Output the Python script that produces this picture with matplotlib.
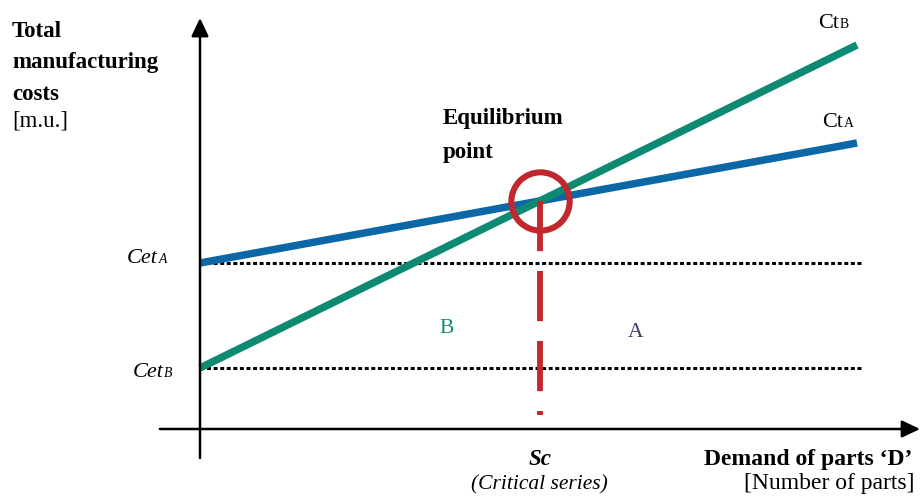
import matplotlib
matplotlib.use("Agg")
import matplotlib.pyplot as plt

# break-even between two processes A and B (conceptual, arbitrary units)
demand = [0.0, 10.0]          # demand of parts D
ct_a = [16.6, 28.6]           # total cost process A, CetA at D=0
ct_b = [6.1, 38.4]            # total cost process B, CetB at D=0
cet_a = ct_a[0]
cet_b = ct_b[0]
dotted_end = 10.08

# critical series = where both cost lines cross
slope_a = (ct_a[1] - ct_a[0]) / (demand[1] - demand[0])
slope_b = (ct_b[1] - ct_b[0]) / (demand[1] - demand[0])
sc = (cet_a - cet_b) / (slope_b - slope_a)
c_eq = cet_a + slope_a * sc

GREEN = '#0f8a72'
BLUE = '#0b67a6'
RED = '#c1272d'

plt.rcParams['font.family'] = ['Liberation Serif', 'DejaVu Serif']

fig = plt.figure(figsize=(9.21, 4.99), dpi=100)
ax = fig.add_axes([0, 0, 1, 1])
ax.set_xlim(-3.044, 10.974)
ax.set_ylim(-7.0, 42.9)
ax.axis('off')

# axes with arrows
arr = dict(arrowstyle='-|>,head_length=0.55,head_width=0.26', lw=1.8,
           color='black', mutation_scale=20, shrinkA=0, shrinkB=0)
ax.annotate('', xy=(0, 41.1), xytext=(0, -2.9), arrowprops=arr)
ax.annotate('', xy=(10.96, 0), xytext=(-0.61, 0), arrowprops=arr)

# fixed cost levels
for c in (cet_a, cet_b):
    ax.plot([0, dotted_end], [c, c], color='black', lw=2.2,
            dashes=(1.3, 0.85), solid_capstyle='butt')

# cost lines
ax.plot(demand, ct_a, color=BLUE, lw=5.4, solid_capstyle='butt')
ax.plot(demand, ct_b, color=GREEN, lw=5.4, solid_capstyle='butt')

# equilibrium point
ax.plot([sc, sc], [c_eq, 1.4], color=RED, lw=4.2, dashes=(8.6, 3.4))
ax.plot([sc], [c_eq], marker='o', markersize=42, markerfacecolor='none',
        markeredgecolor=RED, markeredgewidth=4.4)

# labels
fs = 16.5
ax.text(-2.86, 39.2, 'Total', fontsize=fs, fontweight='bold', va='baseline')
ax.text(-2.86, 36.1, 'manufacturing', fontsize=fs, fontweight='bold', va='baseline')
ax.text(-2.86, 32.9, 'costs', fontsize=fs, fontweight='bold', va='baseline')
ax.text(-2.86, 30.3, '[m.u.]', fontsize=fs, va='baseline')

ax.text(3.70, 30.5, 'Equilibrium', fontsize=fs, fontweight='bold', va='baseline')
ax.text(3.70, 27.1, 'point', fontsize=fs, fontweight='bold', va='baseline')


def label_sub(x, y, main, sub, style='normal', size=16):
    t = ax.text(x, y, main, fontsize=size, style=style, va='baseline')
    ax.annotate(sub, xy=(1, 0), xycoords=t, xytext=(0.3, 0.22 * size),
                textcoords='offset points', fontsize=size * 0.62,
                style=style, va='baseline')


label_sub(-1.11, 16.6, 'Cet', 'A', style='italic')
label_sub(-1.02, 5.2, 'Cet', 'B', style='italic')
label_sub(9.41, 40.1, 'Ct', 'B')
label_sub(9.47, 30.2, 'Ct', 'A')

ax.text(3.65, 9.6, 'B', fontsize=15.5, color=GREEN, va='baseline')
ax.text(6.51, 9.2, 'A', fontsize=15.5, color='#3b3b66', va='baseline')

ax.text(sc, -3.6, 'Sc', fontsize=fs, style='italic', fontweight='bold',
        ha='center', va='baseline')
ax.text(sc, -6.0, '(Critical series)', fontsize=15.5, style='italic',
        ha='center', va='baseline')
ax.text(10.84, -3.6, 'Demand of parts \u2018D\u2019', fontsize=17, fontweight='bold',
        ha='right', va='baseline')
ax.text(10.87, -6.0, '[Number of parts]', fontsize=17, ha='right', va='baseline')

fig.savefig('out.png', dpi=100)
